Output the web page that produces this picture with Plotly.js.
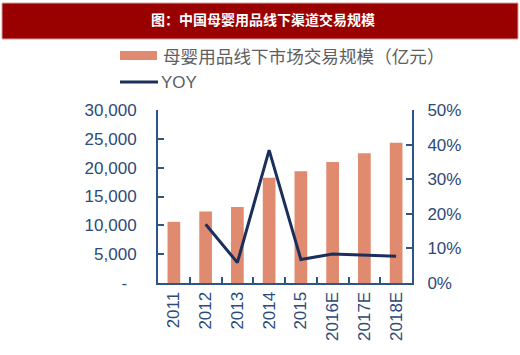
<!DOCTYPE html>
<html><head><meta charset="utf-8">
<script src="https://cdn.plot.ly/plotly-3.0.1.min.js"></script>
<style>html,body{margin:0;padding:0;background:#fff;}#chart{width:520px;height:355px;}</style>
</head><body><div id="chart"></div>
<script>
const years = ['2011','2012','2013','2014','2015','2016E','2017E','2018E'];
const marketSize = [10600, 12400, 13200, 18250, 19400, 21000, 22500, 24300];
const yoyYears = ['2012','2013','2014','2015','2016E','2017E','2018E'];
const yoy = [0.17, 0.059, 0.384, 0.068, 0.084, 0.080, 0.077];
const leftTickVals = [0, 5000, 10000, 15000, 20000, 25000, 30000];
const leftTickText = ['-\u00a0\u00a0', '5,000', '10,000', '15,000', '20,000', '25,000', '30,000'];
const rightTickVals = [0, 0.1, 0.2, 0.3, 0.4, 0.5];
const rightTickText = ['0%', '10%', '20%', '30%', '40%', '50%'];
const chartTitle = '图：中国母婴用品线下渠道交易规模';
const seriesNames = ['母婴用品线下市场交易规模（亿元）', 'YOY'];

const W = 520, H = 355;
const axisColor = '#2f5587';
const tickFontColor = '#2d4a78';
const barColor = '#e08b6f';
const lineColor = '#1b2f5c';

const data = [
  {type:'bar', x: years, y: marketSize, name: seriesNames[0], marker:{color: barColor}, yaxis:'y', hoverinfo:'none'},
  {type:'scatter', mode:'lines', x: yoyYears, y: yoy, name: seriesNames[1], line:{color: lineColor, width:3}, yaxis:'y2', hoverinfo:'none'}
];

const plotL = 158, plotR = 412, plotT = 110, plotB = 283;
const toPX = x => (x - plotL) / (plotR - plotL);
const toPY = y => (plotB - y) / (plotB - plotT);

const layout = {
  width: W, height: H,
  margin: {l:plotL, r:W-plotR, t:plotT, b:H-plotB},
  paper_bgcolor:'#fff', plot_bgcolor:'#fff',
  showlegend: false,
  bargap: 0.6,
  font: {family:'Liberation Sans, Arial, sans-serif', size:17, color: tickFontColor},
  xaxis: {
    type:'category', categoryorder:'array', categoryarray: years,
    showline:true, linecolor: axisColor, linewidth:2,
    ticks:'inside', tickson:'boundaries', ticklen:6, tickcolor: axisColor, tickwidth:2,
    tickangle:-90, tickfont:{size:17, color: tickFontColor}, showgrid:false, zeroline:false
  },
  yaxis: {
    range:[0,30000], tickvals: leftTickVals, ticktext: leftTickText,
    showline:true, linecolor: axisColor, linewidth:2,
    ticks:'inside', ticklen:6, tickcolor: axisColor, tickwidth:2,
    tickfont:{size:17, color: tickFontColor}, showgrid:false, zeroline:false, ticklabelstandoff:16
  },
  yaxis2: {
    overlaying:'y', side:'right', range:[0,0.5], tickvals: rightTickVals, ticktext: rightTickText,
    showline:true, linecolor: axisColor, linewidth:2,
    ticks:'inside', ticklen:6, tickcolor: axisColor, tickwidth:2,
    tickfont:{size:17, color: tickFontColor}, showgrid:false, zeroline:false, ticklabelstandoff:10
  },
  shapes: [
    {type:'rect', xref:'paper', yref:'paper', x0:toPX(2), x1:toPX(518), y0:toPY(3), y1:toPY(39), fillcolor:'#990000', line:{color:'#d9a0a0', width:1}, layer:'above'},
    {type:'rect', xref:'paper', yref:'paper', x0:toPX(120), x1:toPX(157), y0:toPY(51), y1:toPY(60), fillcolor: barColor, line:{width:0}},
    {type:'line', xref:'paper', yref:'paper', x0:toPX(120), x1:toPX(158), y0:toPY(82), y1:toPY(82), line:{color: lineColor, width:3}}
  ],
  annotations: [
    {xref:'paper', yref:'paper', x:toPX(263), y:toPY(19), text:'<b>'+chartTitle+'</b>', showarrow:false, font:{family:'Noto Sans CJK SC, sans-serif', size:14, color:'#ffffff'}, xanchor:'center', yanchor:'middle'},
    {xref:'paper', yref:'paper', x:toPX(161), y:toPY(55), text:seriesNames[0], showarrow:false, font:{family:'Noto Sans CJK SC, sans-serif', size:17.6, color:'#606060'}, xanchor:'left', yanchor:'middle'},
    {xref:'paper', yref:'paper', x:toPX(159), y:toPY(82), text:seriesNames[1], showarrow:false, font:{family:'Liberation Sans, Arial, sans-serif', size:17, color:'#606060'}, xanchor:'left', yanchor:'middle'}
  ]
};

Plotly.newPlot('chart', data, layout, {displayModeBar:false, staticPlot:true});
</script>
</body></html>
